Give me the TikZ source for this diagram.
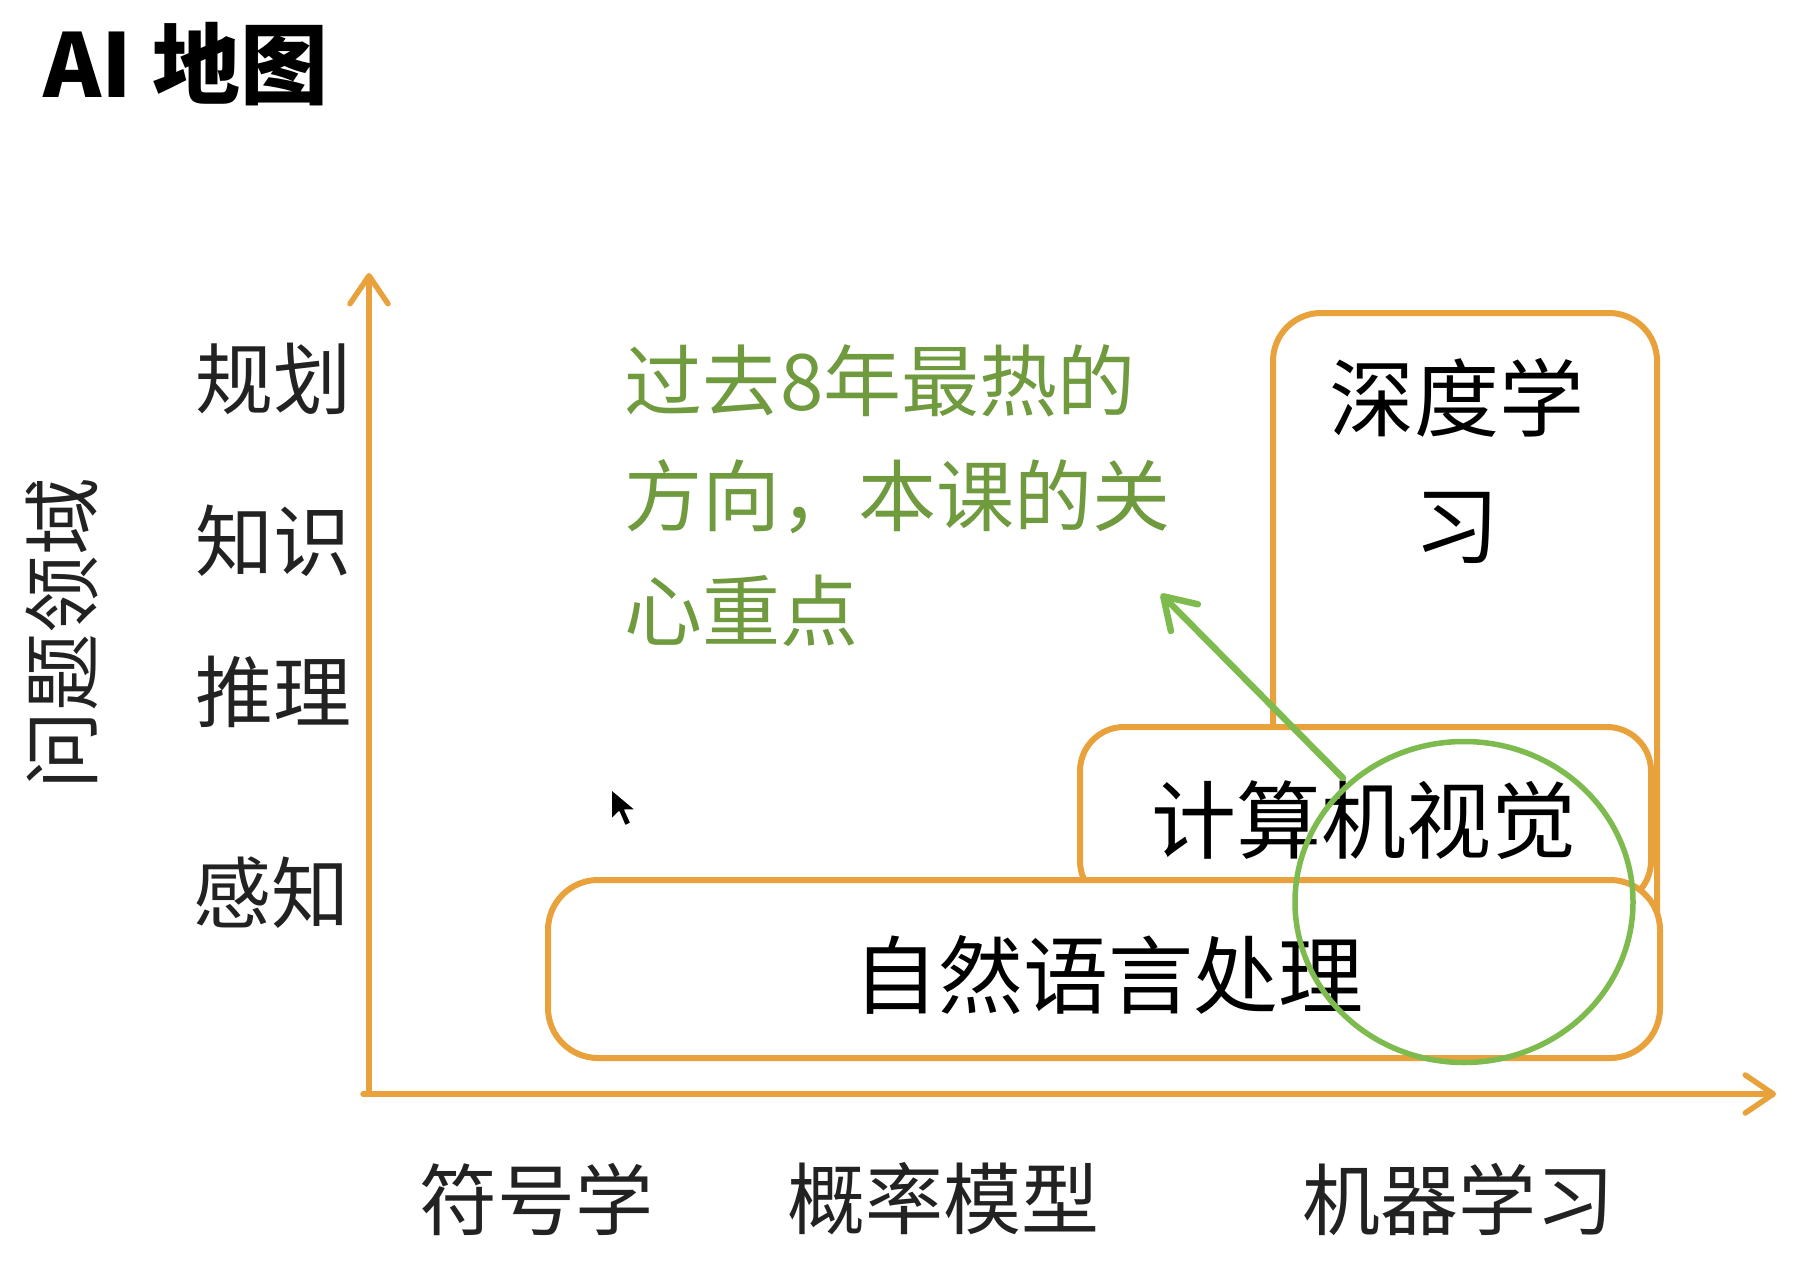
\documentclass[tikz,border=0pt]{standalone}
\usepackage{fontspec}
\newfontfamily\cjk{Noto Sans CJK SC}
\usetikzlibrary{arrows.meta,shapes.geometric}
\definecolor{axorange}{HTML}{E9A23B}
\definecolor{hotgreen}{HTML}{7EBB4F}
\definecolor{hottext}{HTML}{6F9A3E}
\definecolor{labgray}{HTML}{222222}
\tikzset{
  axisline/.style={draw=axorange, line width=5.5pt, line cap=round, line join=round,
    -{Straight Barb[length=28pt,width=38pt,line width=5.5pt,round]}},
  fieldbox/.style={draw=axorange, fill=white, line width=6pt},
  axlabel/.style={inner sep=0pt, text=labgray, font=\cjk\fontsize{78}{90}\selectfont},
  boxlabel/.style={inner sep=0pt, text=black, font=\cjk\fontsize{85}{127}\selectfont, align=center},
  hotnote/.style={inner sep=0pt, text=hottext, font=\cjk\fontsize{78}{115}\selectfont, align=left},
  hotring/.style={draw=hotgreen, line width=5.5pt, ellipse, inner sep=0pt},
  hotarrow/.style={draw=hotgreen, line width=6.5pt, line cap=round,
    -{Straight Barb[length=30pt,width=38pt,line width=6.5pt,round]}}
}
\begin{document}
\begin{tikzpicture}[x=1pt, y=-1pt]
\useasboundingbox[fill=white] (0,0) rectangle (1806,1276);

% title
\node[inner sep=0pt, anchor=base west, font=\cjk\bfseries\fontsize{88}{100}\selectfont] (title) at (43,98) {AI 地图};

% axes
\coordinate (origin) at (369,1094);
\coordinate (ytip) at (369,273);
\coordinate (xstart) at (363,1094);
\coordinate (xtip) at (1776,1094);
\draw[axisline] (origin) -- (ytip);
\draw[axisline] (xstart) -- (xtip);

% y labels
\node[axlabel] (plan) at (273,379) {规划};
\node[axlabel] (know) at (273,541) {知识};
\node[axlabel] (reason) at (273,692) {推理};
\node[axlabel] (percept) at (271,893) {感知};
\node[axlabel, rotate=90] (ydom) at (62,633) {问题领域};

% x labels
\node[axlabel] (symb) at (536,1199) {符号学};
\node[axlabel] (prob) at (943,1199) {概率模型};
\node[axlabel] (ml) at (1458,1199) {机器学习};

% boxes
\draw[fieldbox, rounded corners=48pt] (1273,313) rectangle (1657,980);
\draw[fieldbox, rounded corners=44pt] (1080,727) rectangle (1651,905);
\draw[fieldbox, rounded corners=50pt] (548,880) rectangle (1660,1058);

\node[boxlabel] (dl) at (1457,461) {深度学\\习};
\node[boxlabel] (cv) at (1364,820) {计算机视觉};
\node[boxlabel] (nlp) at (1108,975) {自然语言处理};

% green highlight
\node[hotring, minimum width=338pt, minimum height=321pt] (ring) at (1464,902) {};
\node[hotnote, anchor=west] (note) at (624,496) {过去8年最热的\\方向，本课的关\\心重点};
\coordinate (arrstart) at (1343,778);
\coordinate (arrtip) at (1161,594);
\draw[hotarrow] (arrstart) -- (arrtip);

% mouse cursor
\draw[fill=black, draw=white, line width=1.5pt, line join=round]
  (611,789) -- (611,820) -- (619,812) -- (625,826) -- (631,823) -- (625,810) -- (636,810) -- cycle;
\end{tikzpicture}
\end{document}
